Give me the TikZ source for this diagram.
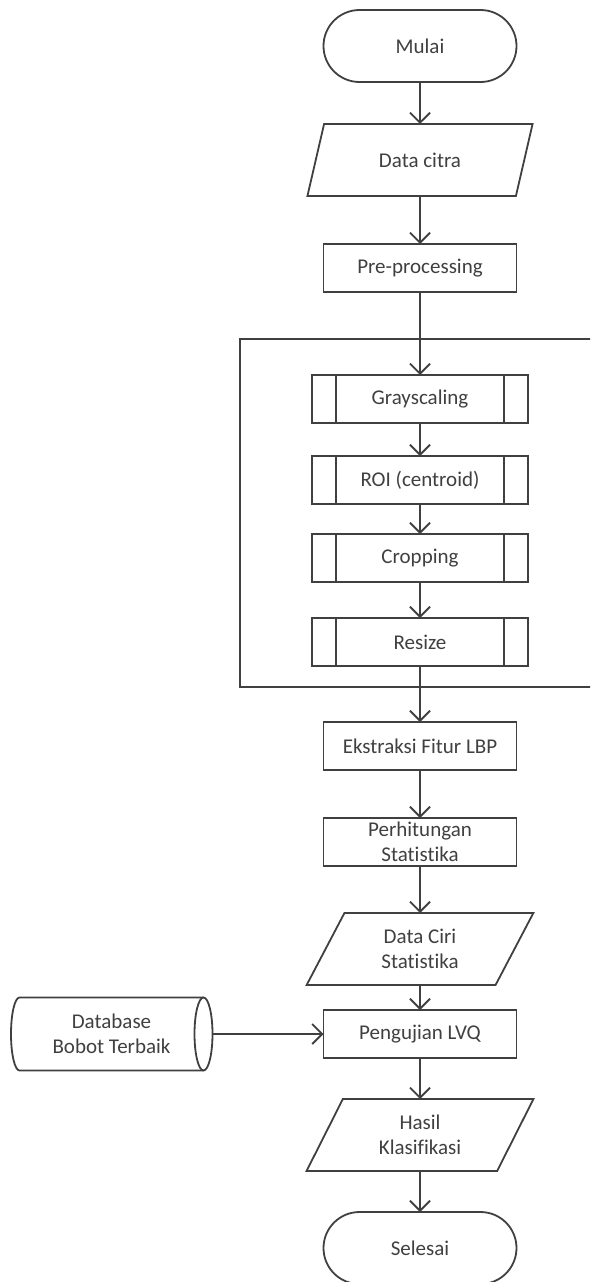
\documentclass[tikz,border=0pt]{standalone}
\usepackage{fontspec}
\setmainfont{Carlito}[Ligatures=NoCommon]
\usetikzlibrary{shapes.geometric,shapes.misc,arrows.meta}
\definecolor{ink}{HTML}{404040}
\begin{document}
\begin{tikzpicture}[x=1pt,y=-1pt,
  every node/.style={font=\fontsize{21}{25}\selectfont, text=ink, align=center,
    inner sep=0pt, outer sep=0pt},
  shapeline/.style={draw=ink, line width=1.8pt},
  flowline/.style={draw=ink, line width=1.8pt, -{Straight Barb[length=10pt,width=20pt]}},
  terminal/.style={shapeline, rounded rectangle, minimum width=193pt, minimum height=72pt},
  io/.style={shapeline, trapezium, trapezium left angle=64, trapezium right angle=116,
    trapezium stretches=true, minimum width=227pt, minimum height=72pt},
  process/.style={shapeline, rectangle, minimum width=193pt, minimum height=48pt},
  subprocess/.style={shapeline, rectangle, minimum width=216pt, minimum height=48pt,
    path picture={
      \draw[ink, line width=1.8pt]
        ([xshift=24pt]path picture bounding box.north west) --
        ([xshift=24pt]path picture bounding box.south west)
        ([xshift=-24pt]path picture bounding box.north east) --
        ([xshift=-24pt]path picture bounding box.south east);
    }},
  storagebody/.style={rectangle, minimum width=184pt, minimum height=73pt},
]
\useasboundingbox (0,0) rectangle (590,1282);
\fill[white] (0,0) rectangle (590,1282);
\clip (0,0) rectangle (590,1282);

% pre-processing group frame (open to the right edge)
\node[shapeline, rectangle, anchor=north west, minimum width=380pt, minimum height=348pt]
  (frame) at (240,339) {};

\node[terminal] (mulai) at (420,46) {Mulai};
\node[io] (citra) at (420,160) {Data citra};
\node[process] (pre) at (420,268) {Pre-processing};
\node[subprocess] (gray) at (420,399) {Grayscaling};
\node[subprocess] (roi) at (420,480) {ROI (centroid)};
\node[subprocess] (crop) at (420,558) {Cropping};
\node[subprocess] (resize) at (420,642) {Resize};
\node[process] (lbp) at (420,746) {Ekstraksi Fitur LBP};
\node[process] (stat) at (420,842) {Perhitungan\\Statistika};
\node[io] (ciri) at (420,949) {Data Ciri\\Statistika};
\node[process] (lvq) at (420,1034) {Pengujian LVQ};
\node[io] (hasil) at (420,1135) {Hasil\\Klasifikasi};
\node[terminal] (selesai) at (420,1248) {Selesai};

% stored data (horizontal drum)
\node[storagebody] (db) at (111.5,1034) {Database\\Bobot Terbaik};
\draw[shapeline] (db.north east) -- (db.north west)
  arc[start angle=90, end angle=270, x radius=8.5pt, y radius=36.5pt] -- (db.south east);
\draw[shapeline] (db.east) ellipse[x radius=9pt, y radius=36.5pt];
\coordinate (dbout) at ([xshift=9pt]db.east);

\draw[flowline] (mulai) -- (citra);
\draw[flowline] (citra) -- (pre);
\draw[flowline] (pre) -- (gray);
\draw[flowline] (gray) -- (roi);
\draw[flowline] (roi) -- (crop);
\draw[flowline] (crop) -- (resize);
\draw[flowline] (resize) -- (lbp);
\draw[flowline] (lbp) -- (stat);
\draw[flowline] (stat) -- (ciri);
\draw[flowline] (ciri) -- (lvq);
\draw[flowline] (lvq) -- (hasil);
\draw[flowline] (hasil) -- (selesai);
\draw[flowline] (dbout) -- (lvq);
\end{tikzpicture}
\end{document}
